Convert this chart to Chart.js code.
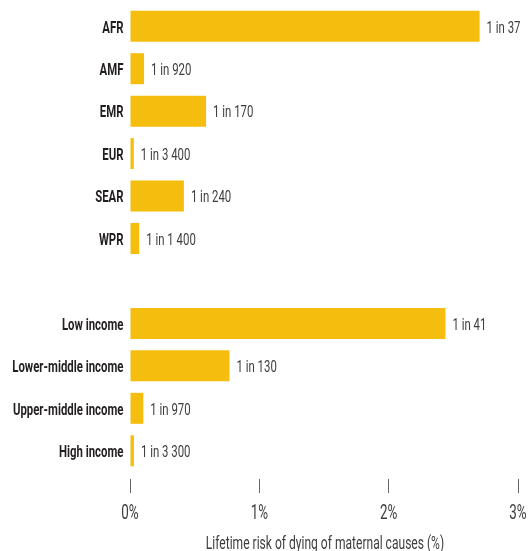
<!DOCTYPE html>
<html>
<head>
<meta charset="utf-8">
<script src="https://cdn.jsdelivr.net/npm/chart.js@4"></script>
<style>
  html, body { margin: 0; padding: 0; background: #fff; }
  #wrap { width: 530px; height: 551px; position: relative; }
</style>
</head>
<body>
<div id="wrap"><canvas id="riskChart"></canvas></div>
<script>
// regions, a blank spacer row, then income groups
const regions = ['AFR', 'AMF', 'EMR', 'EUR', 'SEAR', 'WPR', '', 'Low income', 'Lower-middle income', 'Upper-middle income', 'High income'];
// lifetime risk written as "1 in N"
const oneIn = [37, 920, 170, 3400, 240, 1400, null, 41, 130, 970, 3300];
const xTicks = [0, 1, 2, 3];
const axisTitle = 'Lifetime risk of dying of maternal causes (%)';

const riskPct = oneIn.map(n => n ? 100 / n : null);

const FONT = "Roboto, 'Noto Sans', sans-serif";
const SQUEEZE = 0.67;   // horizontal squeeze to get a condensed face

function fmtN(n) {
    // space as thousands separator: 3400 -> "3 400"
    return String(n).replace(/\B(?=(\d{3})+(?!\d))/g, ' ');
}

function condensedText(ctx, text, x, y, align) {
    ctx.save();
    ctx.translate(x, y);
    ctx.scale(SQUEEZE, 1);
    ctx.textAlign = align;
    ctx.fillText(text, 0, 0);
    ctx.restore();
}

// category names, "1 in N" labels, tick values and axis title
const textLayer = {
    id: 'textLayer',
    afterDraw(chart) {
        const ctx = chart.ctx;
        const yScale = chart.scales.y;
        const xScale = chart.scales.x;
        const meta = chart.getDatasetMeta(0);
        ctx.save();
        ctx.textBaseline = 'alphabetic';

        ctx.font = 'bold 17px ' + FONT;
        ctx.fillStyle = '#231f20';
        regions.forEach((name, i) => {
            if (!name) return;
            condensedText(ctx, name, yScale.right - 6.5, yScale.getPixelForTick(i) + 6.3, 'right');
        });

        ctx.font = '17px ' + FONT;
        ctx.fillStyle = '#3d3d3d';
        meta.data.forEach((bar, i) => {
            if (oneIn[i] == null) return;
            condensedText(ctx, '1 in ' + fmtN(oneIn[i]), bar.x + 7, bar.y + 6.3, 'left');
        });

        ctx.font = '20px ' + FONT;
        xTicks.forEach(v => {
            condensedText(ctx, v + '%', xScale.getPixelForValue(v), xScale.top + 47, 'center');
        });

        ctx.font = '18px ' + FONT;
        condensedText(ctx, axisTitle, (xScale.left + xScale.right) / 2 + 1, xScale.top + 77, 'center');
        ctx.restore();
    }
};

new Chart(document.getElementById('riskChart').getContext('2d'), {
    type: 'bar',
    data: {
        labels: regions,
        datasets: [{
            data: riskPct,
            backgroundColor: '#f5be0f',
            barPercentage: 0.73,
            categoryPercentage: 1.0
        }]
    },
    options: {
        indexAxis: 'y',
        responsive: true,
        maintainAspectRatio: false,
        animation: false,
        layout: { padding: { top: 5, right: 12, bottom: 58, left: 0 } },
        plugins: {
            legend: { display: false },
            tooltip: { enabled: false }
        },
        scales: {
            y: {
                grid: { display: false },
                border: { display: false },
                ticks: { display: false },
                afterFit(scale) { scale.width = 130; }
            },
            x: {
                min: 0,
                max: 3,
                afterBuildTicks(scale) { scale.ticks = xTicks.map(v => ({ value: v })); },
                grid: {
                    drawOnChartArea: false,
                    drawTicks: true,
                    tickLength: 21,
                    tickColor: '#666',
                    tickWidth: 1,
                    tickBorderDash: [0, 7, 14, 40]
                },
                border: { display: false },
                ticks: { display: false }
            }
        }
    },
    plugins: [textLayer]
});
</script>
</body>
</html>
